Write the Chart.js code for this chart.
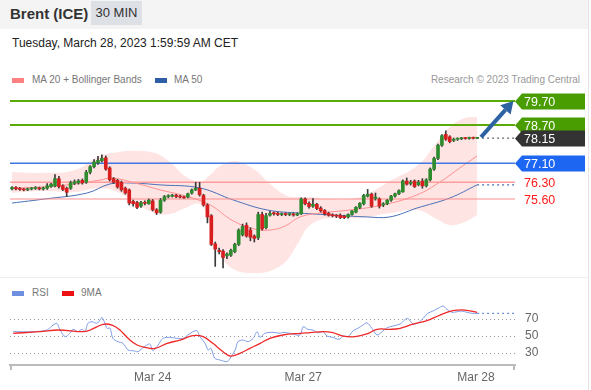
<!DOCTYPE html>
<html>
<head>
<meta charset="utf-8">
<script src="https://cdn.jsdelivr.net/npm/chart.js@4"></script>
<style>
  body { margin: 0; width: 591px; height: 390px; position: relative; overflow: hidden; background: #fff;
         font-family: "Liberation Sans", Arial, sans-serif; }
  .abs { position: absolute; }
  .sw { position: absolute; width: 12px; height: 5px; }
  .lg { position: absolute; font-size: 10px; color: #777; line-height: 14px; white-space: nowrap; }
</style>
</head>
<body>
<div class="abs" style="left:0;top:0;width:588px;height:29px;background:#f4f4f4"></div>
<div class="abs" style="left:10px;top:5px;font-size:15px;font-weight:bold;color:#333">Brent (ICE)</div>
<div class="abs" style="left:91px;top:1px;width:51px;height:24px;line-height:24px;background:#dde0e5;text-align:center;font-size:13px;color:#333">30 MIN</div>
<div class="abs" style="left:12px;top:36px;font-size:12px;color:#222">Tuesday, March 28, 2023 1:59:59 AM CET</div>
<div class="abs" style="left:588px;top:0;width:1px;height:390px;background:#e6e6e6"></div>
<div class="abs" style="left:0;top:277px;width:588px;height:1px;background:#eee"></div>

<div class="sw" style="left:12px;top:78px;background:#ff8080"></div>
<div class="lg" style="left:32px;top:73px">MA 20 + Bollinger Bands</div>
<div class="sw" style="left:155px;top:78px;background:#2f5ea6"></div>
<div class="lg" style="left:174px;top:73px">MA 50</div>
<div class="lg" style="right:11px;top:73px;color:#999">Research © 2023 Trading Central</div>

<div class="sw" style="left:12px;top:291px;background:#6f90e0"></div>
<div class="lg" style="left:32px;top:286px">RSI</div>
<div class="sw" style="left:62px;top:291px;background:#ee1111"></div>
<div class="lg" style="left:81px;top:286px">9MA</div>

<canvas id="main" class="abs" style="left:0;top:60px" width="591" height="220"></canvas>
<canvas id="rsi" class="abs" style="left:0;top:280px" width="591" height="110"></canvas>

<script>
// 30 min candles, index 0..119
const opens = [76.02,76.08,76.03,76.00,75.98,76.02,76.04,76.06,76.02,76.05,
  76.12,76.15,76.45,76.15,76.05,76.05,76.25,76.28,76.38,76.30,
  76.72,76.95,77.12,77.20,77.32,76.90,76.45,76.38,76.30,76.05,
  75.98,75.50,75.45,75.30,75.45,75.40,75.52,75.15,75.05,75.55,
  75.70,75.72,75.76,75.72,75.68,75.68,75.85,75.98,76.05,75.75,
  75.35,74.90,73.72,73.45,73.42,73.22,73.25,73.40,73.70,74.10,
  74.50,74.30,74.05,73.98,74.95,74.40,74.92,75.00,75.00,74.95,
  74.98,74.95,74.97,74.93,74.98,75.60,75.42,75.30,75.38,75.22,
  75.12,75.00,74.92,74.90,74.92,74.88,74.85,74.95,75.05,75.25,
  75.40,75.72,75.80,75.62,75.60,75.35,75.40,75.55,75.72,75.82,
  75.90,76.35,76.25,76.35,76.20,76.35,76.15,76.40,76.85,77.30,
  77.85,78.30,78.20,78.05,78.10,78.12,78.15,78.13,78.16,78.14];
const highs = [76.12,76.12,76.08,76.04,76.06,76.08,76.12,76.10,76.10,76.25,
  76.26,76.62,76.55,76.20,76.10,76.35,76.40,76.42,76.44,76.80,
  77.00,77.25,77.38,77.45,77.40,76.95,76.50,76.42,76.35,76.10,
  76.02,75.55,75.50,75.50,75.52,75.60,75.58,75.20,75.62,75.75,
  75.78,75.80,75.80,75.76,75.72,75.85,76.02,76.30,76.30,75.80,
  75.40,74.95,73.80,73.55,73.48,73.35,73.50,73.75,74.35,74.55,
  74.60,74.40,74.10,75.05,75.05,75.00,75.08,75.05,75.05,75.02,
  75.02,75.00,75.02,75.02,75.65,75.65,75.48,75.62,75.42,75.28,
  75.16,75.05,74.98,74.95,74.98,74.92,74.98,75.12,75.28,75.45,
  75.80,76.00,75.85,75.85,75.65,75.45,75.58,75.75,75.85,75.98,
  76.40,76.48,76.38,76.40,76.38,76.45,76.45,76.90,77.35,77.90,
  78.30,78.45,78.25,78.15,78.16,78.18,78.18,78.19,78.19,78.18];
const lows = [75.98,75.98,75.96,75.94,75.95,75.98,76.00,75.98,75.97,76.00,
  76.08,76.10,76.05,75.95,75.70,76.00,76.20,76.22,76.22,76.25,
  76.65,76.90,77.05,77.15,76.80,76.35,76.25,76.05,75.92,75.80,
  75.35,75.30,75.20,75.25,75.35,75.38,75.10,74.95,75.00,75.50,
  75.65,75.68,75.66,75.64,75.62,75.65,75.80,75.95,75.72,75.30,
  74.60,73.65,72.78,73.30,72.72,73.10,73.20,73.35,73.65,74.05,
  74.00,73.85,73.80,73.90,74.30,74.35,74.88,74.92,74.90,74.90,
  74.90,74.90,74.88,74.90,74.95,75.35,75.22,75.25,75.15,75.05,
  74.92,74.88,74.85,74.82,74.78,74.78,74.80,74.92,75.02,75.20,
  75.35,75.68,75.25,75.55,75.22,75.28,75.36,75.50,75.68,75.78,
  75.88,76.18,76.18,76.08,76.15,76.05,76.10,76.35,76.80,77.25,
  77.80,78.05,77.95,78.00,78.05,78.08,78.10,78.10,78.11,78.12];
const closes = [76.08,76.02,76.00,75.98,76.02,76.04,76.06,76.02,76.05,76.15,
  76.22,76.45,76.12,76.00,75.88,76.28,76.32,76.36,76.28,76.72,
  76.95,77.15,77.22,77.30,76.85,76.40,76.30,76.10,75.98,75.85,
  75.43,75.40,75.25,75.45,75.42,75.55,75.15,75.02,75.55,75.70,
  75.72,75.76,75.70,75.68,75.65,75.82,75.98,76.05,75.78,75.35,
  74.85,73.70,73.50,73.40,73.15,73.30,73.45,73.70,74.30,74.45,
  74.05,74.00,73.95,74.95,74.35,74.90,75.00,74.98,74.95,74.98,
  74.95,74.97,74.93,74.98,75.60,75.40,75.28,75.38,75.20,75.10,
  74.98,74.92,74.90,74.88,74.82,74.82,74.95,75.10,75.25,75.42,
  75.75,75.80,75.30,75.68,75.30,75.40,75.55,75.72,75.82,75.95,
  76.35,76.22,76.30,76.12,76.30,76.15,76.40,76.85,77.30,77.85,
  78.25,78.10,78.00,78.10,78.12,78.15,78.13,78.16,78.14,78.15];

// Bollinger bands / moving averages, read at candle positions
const bandX     = [0, 7.9, 16.1, 22.5, 27.6, 32, 36.6, 40.4, 44.3, 48.1, 50.7, 53.2, 57.1, 62.2, 66, 69.9, 72.9, 76.3, 81.4, 89, 96.7, 103.9, 108.2, 112, 115.9, 119];
const bandUpper = [76.73, 76.69, 76.81, 77.40, 77.57, 77.61, 77.52, 77.15, 76.56, 76.31, 76.60, 76.98, 77.19, 76.81, 76.23, 75.77, 75.68, 75.68, 75.60, 75.68, 76.35, 77.02, 77.86, 78.61, 78.99, 79.03];
const bandLower = [75.85, 75.93, 75.89, 76.06, 75.85, 75.39, 75.01, 74.97, 75.22, 75.39, 74.51, 73.26, 72.63, 72.50, 72.59, 72.96, 73.67, 74.51, 74.80, 74.80, 75.01, 75.14, 74.80, 74.51, 74.64, 74.93];
const ma20X = [0, 7.9, 16.1, 22.5, 25.6, 31.5, 37.9, 44.3, 50.7, 56.6, 62.2, 66, 69.9, 73.7, 78.8, 86.5, 94.9, 103.6, 109.5, 114.6, 119];
const ma20  = [76.06, 76.10, 76.23, 76.39, 76.48, 76.27, 75.98, 75.73, 75.35, 74.68, 74.34, 74.30, 74.47, 74.85, 75.01, 75.14, 75.35, 75.77, 76.31, 76.90, 77.40];
const ma50X = [0, 8.4, 19.2, 25.1, 30.2, 37.9, 48.1, 56.6, 65.3, 73.7, 82.1, 90.8, 96.7, 103.6, 112, 119];
const ma50  = [75.43, 75.60, 75.85, 76.23, 76.27, 76.19, 76.06, 75.56, 75.14, 75.01, 74.93, 74.85, 74.85, 75.22, 75.64, 76.19];

// RSI panel
const rsiX = [0.3, 5.4, 9.0, 10.5, 11.5, 12.3, 13.6, 14.8, 15.6, 16.9, 17.9, 18.7, 19.4, 20.5, 21.7, 22.5, 23.0, 23.8, 24.3, 25.1,
  25.8, 27.1, 28.4, 29.7, 31.0, 32.2, 33.3, 34.5, 35.3, 36.1, 37.4, 38.6, 40.4, 42.2, 43.8, 45.0, 46.3, 47.3, 48.1, 49.4,
  50.2, 50.9, 51.9, 53.2, 55.0, 55.8, 57.1, 57.8, 59.1, 60.4, 61.7, 62.7, 63.5, 64.7, 66.8, 68.6, 69.3, 71.1, 73.7, 74.5,
  75.7, 77.0, 78.3, 79.6, 80.6, 82.1, 83.7, 84.7, 86.0, 87.3, 88.5, 89.8, 90.8, 92.1, 93.4, 94.7, 96.0, 97.5, 99.3, 100.6,
  101.3, 102.6, 103.9, 105.2, 106.4, 107.7, 109.0, 110.3, 111.3, 112.6, 113.9, 115.1, 116.4, 117.7, 119.0];
const rsi = [55.1, 55.1, 57.1, 62.9, 64.9, 57.1, 49.2, 53.2, 57.9, 55.1, 57.9, 55.1, 64.9, 66.8, 64.9, 68.8, 72.0, 64.9, 59.1, 59.1,
  47.3, 43.3, 41.4, 33.5, 32.7, 31.5, 35.5, 39.4, 40.6, 32.7, 39.4, 47.3, 48.4, 47.3, 47.3, 51.2, 55.1, 56.3, 49.2, 41.4,
  33.5, 35.5, 23.8, 21.8, 19.8, 23.8, 33.5, 43.3, 45.3, 43.3, 47.3, 55.1, 48.4, 53.2, 54.4, 53.2, 54.4, 53.2, 51.2, 60.9,
  57.9, 57.1, 53.9, 55.1, 50.0, 48.4, 46.1, 50.0, 49.2, 56.3, 59.1, 62.9, 65.6, 59.1, 51.2, 55.1, 59.8, 61.8, 64.1, 69.6,
  70.8, 64.1, 65.6, 70.8, 76.7, 79.4, 82.6, 85.3, 81.4, 77.9, 78.6, 79.4, 77.9, 76.7, 76.7];
const ma9X = [0.3, 7.2, 11.8, 18.2, 20.0, 23.3, 25.6, 27.6, 29.7, 32.0, 34.5, 36.6, 39.7, 43.0, 46.3, 48.9, 51.4, 54.0, 55.8, 58.3,
  60.9, 63.5, 66.0, 69.3, 73.7, 76.3, 79.6, 82.1, 84.7, 87.8, 90.8, 93.4, 96.7, 99.3, 102.6, 106.2, 109.5, 112.8, 115.9, 119.0];
const ma9 = [53.2, 55.1, 57.1, 55.1, 57.1, 63.8, 62.9, 57.1, 47.3, 39.4, 36.3, 35.5, 41.4, 45.3, 50.4, 49.2, 41.4, 31.5, 26.5, 29.6,
  35.5, 41.4, 47.3, 51.2, 53.2, 53.9, 55.1, 53.9, 50.0, 49.2, 52.4, 57.9, 57.9, 59.1, 64.1, 68.0, 74.7, 79.8, 80.6, 77.9];
const rsiTicks = [30, 50, 70];

// key levels and axis labels
const levelValues = [79.70, 78.70, 78.15, 77.10, 76.30, 75.60];
const levelLabels = ['79.70', '78.70', '78.15', '77.10', '76.30', '75.60'];
const arrowTarget = 79.70;
const dateTickIdx = [36, 74.5, 118.7];
const dateLabels = ['Mar 24', 'Mar 27', 'Mar 28'];

const X_MIN = -0.51, X_MAX = 128.7;
const UP = '#2e8b2e', DOWN = '#d81e1e';
const levelStyle = [
  { line: '#5aab0a', width: 2, box: '#4a9d00' },
  { line: '#5aab0a', width: 2, box: '#4a9d00' },
  { line: null, box: '#333333' },
  { line: '#3f78e0', width: 1.5, box: '#1d66f2' },
  { line: '#ff9c9c', width: 1.5, text: '#ff1a1a' },
  { line: '#ff8c8c', width: 1, text: '#ff1a1a' }
];
const last = closes.length - 1;
const pts = (xs, ys) => xs.map((x, k) => ({ x: x, y: ys[k] }));

const levelSets = [];
levelValues.forEach((v, k) => {
  const st = levelStyle[k];
  if (!st.line) return;
  levelSets.push({ type: 'line', data: [{ x: X_MIN, y: v }, { x: X_MAX, y: v }], borderColor: st.line,
    borderWidth: st.width, pointRadius: 0, order: 6 });
});

const labelPlugin = {
  id: 'levelLabels',
  afterDraw(chart) {
    const ctx = chart.ctx, y = chart.scales.y, x = chart.scales.x;
    const left = chart.chartArea.right;
    ctx.save();
    // arrow to target
    const x0 = x.getPixelForValue(last + 1), y0 = y.getPixelForValue(closes[last]) - 1;
    const x1 = x.getPixelForValue(X_MAX - 0.4), y1 = y.getPixelForValue(arrowTarget);
    const ang = Math.atan2(y1 - y0, x1 - x0);
    const hl = 12, hw = 7;
    const bx = x1 - hl * Math.cos(ang), by = y1 - hl * Math.sin(ang);
    ctx.strokeStyle = '#2d62a3'; ctx.fillStyle = '#2d62a3'; ctx.lineWidth = 4;
    ctx.beginPath(); ctx.moveTo(x0, y0); ctx.lineTo(bx, by); ctx.stroke();
    ctx.beginPath(); ctx.moveTo(x1, y1);
    ctx.lineTo(bx + hw * Math.sin(ang), by - hw * Math.cos(ang));
    ctx.lineTo(bx - hw * Math.sin(ang), by + hw * Math.cos(ang));
    ctx.closePath(); ctx.fill();

    ctx.font = '12.5px "Liberation Sans", Arial, sans-serif';
    ctx.textBaseline = 'middle';
    levelValues.forEach((v, k) => {
      const st = levelStyle[k];
      const py = Math.round(y.getPixelForValue(v)) + 0.5;
      if (st.box) {
        ctx.fillStyle = st.box;
        ctx.beginPath();
        ctx.moveTo(left, py);
        ctx.lineTo(left + 7, py - 8);
        ctx.lineTo(left + 70, py - 8);
        ctx.lineTo(left + 70, py + 8);
        ctx.lineTo(left + 7, py + 8);
        ctx.closePath(); ctx.fill();
        ctx.fillStyle = '#fff';
      } else {
        ctx.fillStyle = st.text;
      }
      ctx.fillText(levelLabels[k], left + 9, py + 1);
    });
    ctx.restore();
  }
};

new Chart(document.getElementById('main'), {
  type: 'bar',
  data: {
    datasets: [
      { type: 'line', data: pts(bandX, bandUpper), borderWidth: 0, pointRadius: 0, tension: 0.4,
        fill: '+1', backgroundColor: 'rgba(255,120,120,0.2)', order: 10 },
      { type: 'line', data: pts(bandX, bandLower), borderWidth: 0, pointRadius: 0, tension: 0.4, fill: false, order: 10 },
      { type: 'line', data: pts(ma20X, ma20), borderColor: '#ff9090', borderWidth: 1, pointRadius: 0, tension: 0.4, order: 7 },
      { type: 'line', data: pts(ma50X, ma50), borderColor: '#4a6fb5', borderWidth: 1, pointRadius: 0, tension: 0.4, order: 7 },
      { type: 'line', data: [{ x: ma50X[ma50X.length - 1], y: ma50[ma50.length - 1] }, { x: X_MAX, y: ma50[ma50.length - 1] }],
        borderColor: '#4a6fb5', borderWidth: 1.2, borderDash: [2, 3], pointRadius: 0, order: 7 },
      { type: 'line', data: [{ x: last, y: closes[last] }, { x: X_MAX, y: closes[last] }],
        borderColor: '#666', borderWidth: 1.2, borderDash: [2, 3], pointRadius: 0, order: 7 },
      ...levelSets,
      { data: closes.map((c, i) => ({ x: i, y: [lows[i], highs[i]] })), backgroundColor: '#3a3a3a',
        barThickness: 1, grouped: false, borderWidth: 0, order: 2 },
      { data: closes.map((c, i) => ({ x: i, y: [opens[i], c] })),
        backgroundColor: closes.map((c, i) => c >= opens[i] ? UP : DOWN),
        barThickness: 3, minBarLength: 1, grouped: false, borderWidth: 0, order: 1 }
    ]
  },
  options: {
    responsive: false,
    animation: false,
    layout: { padding: { left: 10, right: 76, top: 30, bottom: 5 } },
    plugins: { legend: { display: false }, tooltip: { enabled: false } },
    scales: {
      x: { type: 'linear', min: X_MIN, max: X_MAX, offset: false, display: false },
      y: { min: 72.42, max: 80.16, display: false }
    }
  },
  plugins: [labelPlugin]
});

const endTicks = {
  id: 'endTicks',
  afterDraw(chart) {
    const ctx = chart.ctx, a = chart.chartArea;
    ctx.save();
    ctx.strokeStyle = '#bbb'; ctx.lineWidth = 2;
    ctx.beginPath();
    ctx.moveTo(a.left + 1, a.bottom); ctx.lineTo(a.left + 1, a.bottom + 5);
    ctx.moveTo(a.right - 1, a.bottom); ctx.lineTo(a.right - 1, a.bottom + 5);
    ctx.stroke();
    ctx.restore();
  }
};

new Chart(document.getElementById('rsi'), {
  type: 'line',
  data: {
    datasets: [
      { data: pts(ma9X, ma9), borderColor: '#f02828', borderWidth: 1.3, pointRadius: 0, tension: 0.4 },
      { data: pts(rsiX, rsi), borderColor: '#7f9de6', borderWidth: 1, pointRadius: 0, tension: 0.3 },
      { data: [{ x: rsiX[rsiX.length - 1], y: rsi[rsi.length - 1] }, { x: X_MAX, y: rsi[rsi.length - 1] }],
        borderColor: '#6f90e0', borderWidth: 1.2, borderDash: [2, 3], pointRadius: 0 }
    ]
  },
  options: {
    responsive: false,
    animation: false,
    layout: { padding: { left: 10, right: 0, top: 20, bottom: 0 } },
    plugins: { legend: { display: false }, tooltip: { enabled: false } },
    scales: {
      x: {
        type: 'linear', min: X_MIN, max: X_MAX,
        afterBuildTicks: s => { s.ticks = dateTickIdx.map(v => ({ value: v })); },
        afterFit: s => { s.height = 25; },
        grid: { display: false, drawTicks: false },
        border: { display: true, color: '#bbb', width: 2 },
        ticks: { callback: (v, i) => dateLabels[i], autoSkip: false, maxRotation: 0, padding: 5,
                 color: '#666', font: { size: 12, family: '"Liberation Sans", Arial, sans-serif' } }
      },
      y: {
        position: 'right', min: 15.9, max: 92.4,
        afterBuildTicks: s => { s.ticks = rsiTicks.map(v => ({ value: v })); },
        afterFit: s => { s.width = 76; },
        grid: { color: '#999', lineWidth: 1, drawTicks: false },
        border: { display: false, dash: [1, 3] },
        ticks: { padding: 10, color: '#666', font: { size: 12, family: '"Liberation Sans", Arial, sans-serif' } }
      }
    }
  },
  plugins: [endTicks]
});
</script>
</body>
</html>
